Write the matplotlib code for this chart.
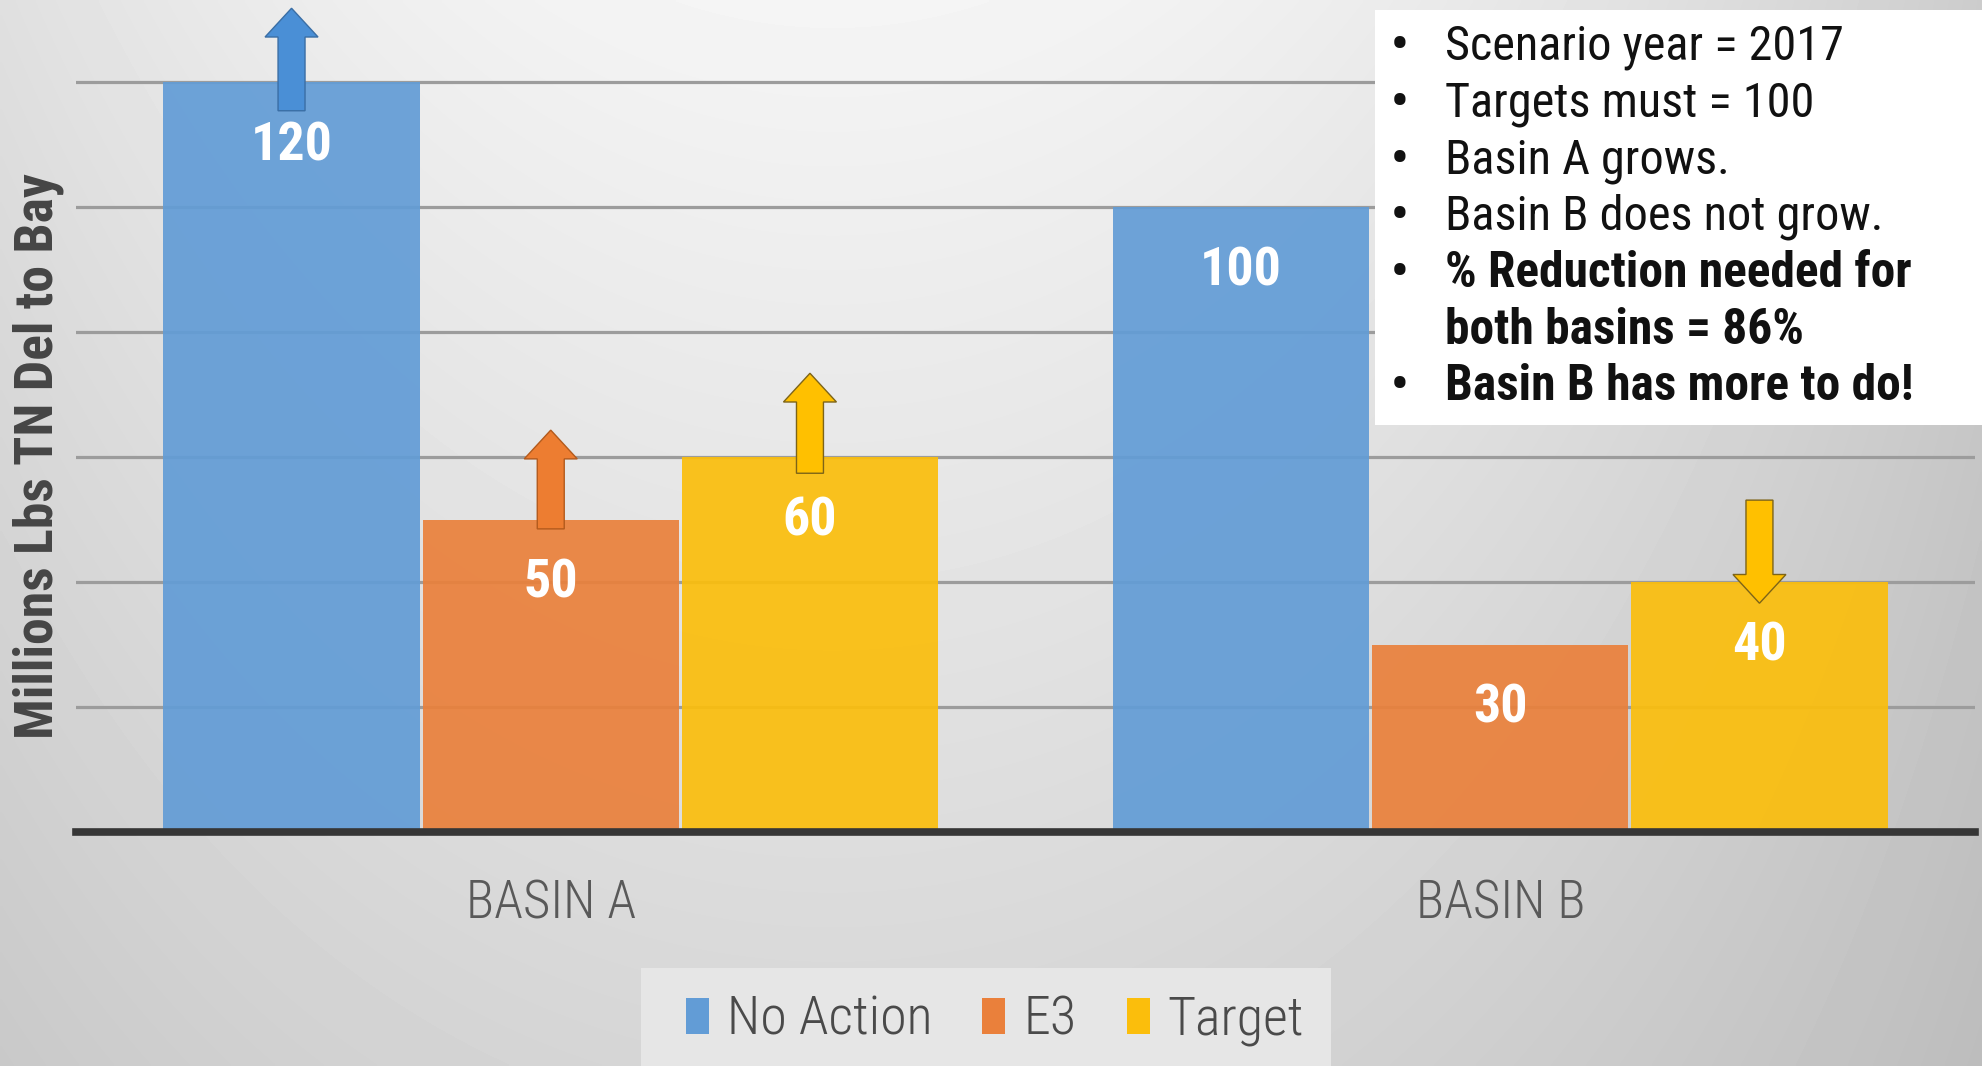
import os
import numpy as np
import matplotlib
matplotlib.use("Agg")
import matplotlib.pyplot as plt
from matplotlib import font_manager as fm
from matplotlib.patches import Rectangle, Polygon, Patch
from matplotlib.transforms import blended_transform_factory

# ---------------- data ----------------
categories = ["BASIN A", "BASIN B"]
series_names = ["No Action", "E3", "Target"]
no_action = [120, 100]
e3 = [50, 30]
target = [60, 40]
grid_ticks = [20, 40, 60, 80, 100, 120]
y_label = "Millions Lbs TN Del to Bay"

note_lines = ["Scenario year = 2017", "Targets must = 100", "Basin A grows.",
              "Basin B does not grow.", "% Reduction needed for",
              "both basins = 86%", "Basin B has more to do!"]
note_bullet = [True, True, True, True, True, False, True]
note_bold = [False, False, False, False, True, True, True]

# change arrows: group index, series index, start value, tip value
arrow_group = [0, 0, 0, 1]
arrow_series = [0, 1, 2, 2]
arrow_start = [115.4, 48.5, 57.4, 53.1]
arrow_tip = [131.8, 64.3, 73.4, 36.6]

bar_colors = ["#629cd6", "#ea803b", "#fbbe0c"]
arrow_face = ["#4a8fd6", "#ed7d31", "#ffc000"]
arrow_edge = ["#3a6ea5", "#b35a1c", "#7d6418"]

# ---------------- fonts ----------------
def find_cond(weight):
    pref = ["Roboto Condensed", "Open Sans Condensed", "Open Sans", "Noto Sans",
            "Liberation Sans Narrow", "DejaVu Sans", "Roboto"]
    best, best_score = None, None
    for f in fm.fontManager.ttflist:
        b = os.path.basename(f.fname).lower()
        nm = f.name
        cond = ("cond" in b or "narrow" in b or "Condensed" in nm or "Narrow" in nm)
        if not cond:
            continue
        if any(k in b for k in ("extra", "ultra", "semi", "italic", "oblique")):
            continue
        if f.style != "normal":
            continue
        w = f.weight if isinstance(f.weight, (int, float)) else fm.weight_dict.get(f.weight, 400)
        rank = pref.index(nm) if nm in pref else len(pref)
        score = (rank, abs(w - weight))
        if best_score is None or score < best_score:
            best, best_score = f, score
    if best is None:
        return fm.FontProperties(family=["Lato", "DejaVu Sans"], weight=weight)
    return fm.FontProperties(fname=best.fname)

fp_reg = find_cond(400)
fp_light = find_cond(300)
fp_bold = find_cond(700)

W, H = 1982, 1066
fig = plt.figure(figsize=(W / 100, H / 100), dpi=100)
renderer = fig.canvas.get_renderer()


def fitted(fp, text, target_px):
    t = fig.text(0, 0, text, fontproperties=fp, fontsize=20)
    w = t.get_window_extent(renderer).width
    t.remove()
    return 20 * target_px / w


def sized(fp, size):
    p = fp.copy()
    p.set_size(size)
    return p

# ---------------- background gradient ----------------
bg = fig.add_axes([0, 0, 1, 1], zorder=-10)
yy, xx = np.mgrid[0:1:300j, 0:1:500j]
X = ((xx - 0.42) / 0.58) ** 2
v = 0.96 - 0.16 * X - 0.12 * yy + 0.06 * X * yy
bg.imshow(v, cmap="gray", vmin=0, vmax=1, extent=[0, 1, 0, 1], origin="upper",
          aspect="auto", interpolation="bilinear")
bg.axis("off")

# ---------------- main axes ----------------
ax = fig.add_axes([76 / W, 1 - 832 / H, (1975 - 76) / W, 825 / H])
ax.set_facecolor("none")
ax.set_xlim(-0.5, 1.5)
ax.set_ylim(0, 132)
for s in ax.spines.values():
    s.set_visible(False)
ax.set_yticks(grid_ticks)
ax.yaxis.grid(True, color="#9c9c9c", lw=2.3)
ax.set_axisbelow(True)
ax.tick_params(left=False, labelleft=False, bottom=False, labelbottom=False)

x = np.arange(len(categories))
step, width = 0.273, 0.27
all_series = [no_action, e3, target]
label_size = fitted(fp_bold, "120", 82)
for i, vals in enumerate(all_series):
    xs = x + (i - 1) * step
    ax.bar(xs, vals, width=width, color=bar_colors[i], alpha=0.92, zorder=2,
           label=series_names[i])
    for xi, val in zip(xs, vals):
        ax.text(xi, val - 10.2, str(val), ha="center", va="center", color="white",
                fontproperties=sized(fp_bold, label_size), zorder=5)

ax.axhline(0, color="#363636", lw=5.5, zorder=4, clip_on=False)

# arrows
sw, hw, hl = 0.0142, 0.0279, 4.6
for g, si, y0, y1 in zip(arrow_group, arrow_series, arrow_start, arrow_tip):
    xc = x[g] + (si - 1) * step
    sgn = 1 if y1 > y0 else -1
    yb = y1 - sgn * hl
    pts = [(xc - sw, y0), (xc + sw, y0), (xc + sw, yb), (xc + hw, yb), (xc, y1),
           (xc - hw, yb), (xc - sw, yb)]
    ax.add_patch(Polygon(pts, closed=True, facecolor=arrow_face[si],
                         edgecolor=arrow_edge[si], lw=1.0, zorder=4, clip_on=False))

# category labels
tr = blended_transform_factory(ax.transData, fig.transFigure)
cat_size = fitted(fp_light, "BASIN A", 170)
for xi, c in zip(x, categories):
    ax.text(xi, 1 - 904 / H, c, transform=tr, ha="center", va="center",
            color="#595959", fontproperties=sized(fp_light, cat_size))

# y label
yl_size = fitted(fp_bold, y_label, 567)
fig.text(38 / W, 1 - 456 / H, y_label, rotation=90, ha="center", va="center",
         color="#454545", fontproperties=sized(fp_bold, yl_size))

# ---------------- notes box ----------------
fig.add_artist(Rectangle((1375 / W, 1 - 425 / H), (W - 1375) / W + 0.01, 415 / H,
                         transform=fig.transFigure, facecolor="white",
                         edgecolor="none", zorder=5))
note_size = fitted(fp_reg, "Scenario year = 2017", 398)
note_bold_size = fitted(fp_bold, "% Reduction needed for", 466)
line_y = [47, 104, 161, 217, 274, 330, 387]
for txt, bul, bold, yp in zip(note_lines, note_bullet, note_bold, line_y):
    fp = sized(fp_bold, note_bold_size) if bold else sized(fp_reg, note_size)
    if bul:
        fig.text(1399 / W, 1 - yp / H, "\u2022", ha="center", va="center",
                 color="#111111", fontproperties=sized(fp_bold, note_size), zorder=6)
    fig.text(1445 / W, 1 - yp / H, txt, ha="left", va="center",
             color="#111111", fontproperties=fp, zorder=6)

# ---------------- legend ----------------
fig.add_artist(Rectangle((641 / W, 0), 690 / W, (H - 968) / H,
                         transform=fig.transFigure, facecolor="#e6e6e6",
                         edgecolor="none", zorder=1))
leg_size = fitted(fp_light, "No Action", 206)
em = leg_size * 100 / 72
handles = [Patch(facecolor=c, edgecolor="none") for c in bar_colors]
leg = fig.legend(handles, series_names, loc="center", bbox_to_anchor=(995 / W, 1 - 1020 / H),
                 ncol=3, frameon=False, prop=sized(fp_light, leg_size),
                 handlelength=23 / em, handleheight=35 / em, handletextpad=18 / em,
                 columnspacing=50 / em, labelcolor="#4a4a4a")
leg.set_zorder(6)

fig.savefig("out.png", dpi=100)
